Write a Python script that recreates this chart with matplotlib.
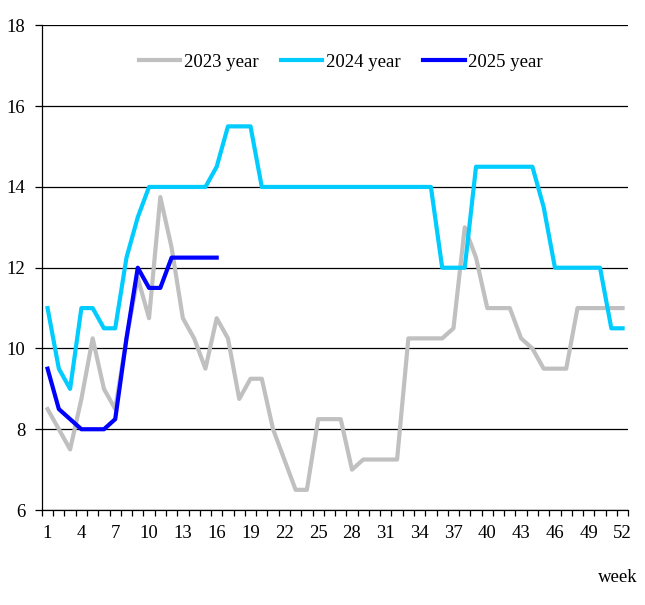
import numpy as np
import matplotlib
matplotlib.use("Agg")
import matplotlib.pyplot as plt
from matplotlib.ticker import MultipleLocator, FixedLocator

plt.rcParams['font.family'] = ['Liberation Serif', 'DejaVu Serif']

# 数据
weeks = np.arange(1, 53)

y2023 = [8.5, 8.0, 7.5, 8.75, 10.25, 9.0, 8.5, 10.25, 11.75, 10.75,
         13.75, 12.5, 10.75, 10.25, 9.5, 10.75, 10.25, 8.75, 9.25, 9.25,
         8.0, 7.25, 6.5, 6.5, 8.25, 8.25, 8.25, 7.0, 7.25, 7.25,
         7.25, 7.25, 10.25, 10.25, 10.25, 10.25, 10.5, 13.0, 12.25, 11.0,
         11.0, 11.0, 10.25, 10.0, 9.5, 9.5, 9.5, 11.0, 11.0, 11.0,
         11.0, 11.0]

y2024 = [11.0, 9.5, 9.0, 11.0, 11.0, 10.5, 10.5, 12.25, 13.25, 14.0,
         14.0, 14.0, 14.0, 14.0, 14.0, 14.5, 15.5, 15.5, 15.5, 14.0,
         14.0, 14.0, 14.0, 14.0, 14.0, 14.0, 14.0, 14.0, 14.0, 14.0,
         14.0, 14.0, 14.0, 14.0, 14.0, 12.0, 12.0, 12.0, 14.5, 14.5,
         14.5, 14.5, 14.5, 14.5, 13.5, 12.0, 12.0, 12.0, 12.0, 12.0,
         10.5, 10.5]

y2025 = [9.5, 8.5, 8.25, 8.0, 8.0, 8.0, 8.25, 10.25, 12.0, 11.5,
         11.5, 12.25, 12.25, 12.25, 12.25, 12.25]

labels = ["2023 year", "2024 year", "2025 year"]
colors = ["#C0C0C0", "#00CCFF", "#0000FF"]

# 画图
fig = plt.figure(figsize=(6.45, 6.05), dpi=100)
ax = fig.add_axes([0.065, 0.157, 0.909, 0.801])

ax.plot(weeks, y2023, color=colors[0], lw=3, label=labels[0])
ax.plot(weeks, y2024, color=colors[1], lw=3, label=labels[1])
ax.plot(weeks[:len(y2025)], y2025, color=colors[2], lw=3, label=labels[2])

ax.set_xlim(0.5, 52.5)
ax.set_ylim(6, 18)
ax.yaxis.set_major_locator(MultipleLocator(2))
ax.grid(axis='y', color='black', lw=0.9)
ax.set_axisbelow(True)

ax.xaxis.set_major_locator(FixedLocator(np.arange(1, 53, 3)))
ax.xaxis.set_minor_locator(FixedLocator(np.arange(0.5, 53, 1)))
ax.tick_params(axis='x', which='major', length=0, pad=11, labelsize=13.5)
ax.tick_params(axis='x', which='minor', length=4.5, width=0.9, direction='out')
ax.tick_params(axis='y', length=5, width=0.9, labelsize=13.5, pad=7)

for s in ['top', 'right']:
    ax.spines[s].set_visible(False)
for s in ['left', 'bottom']:
    ax.spines[s].set_linewidth(0.9)

ax.legend(loc='center', bbox_to_anchor=(0.51, 0.924), ncol=3, frameon=False,
          fontsize=13.5, handlelength=2.2, handletextpad=0.2, columnspacing=1.2)

fig.text(0.988, 0.046, "week", ha='right', va='center', fontsize=13.5)

fig.savefig("out.png", dpi=100)
